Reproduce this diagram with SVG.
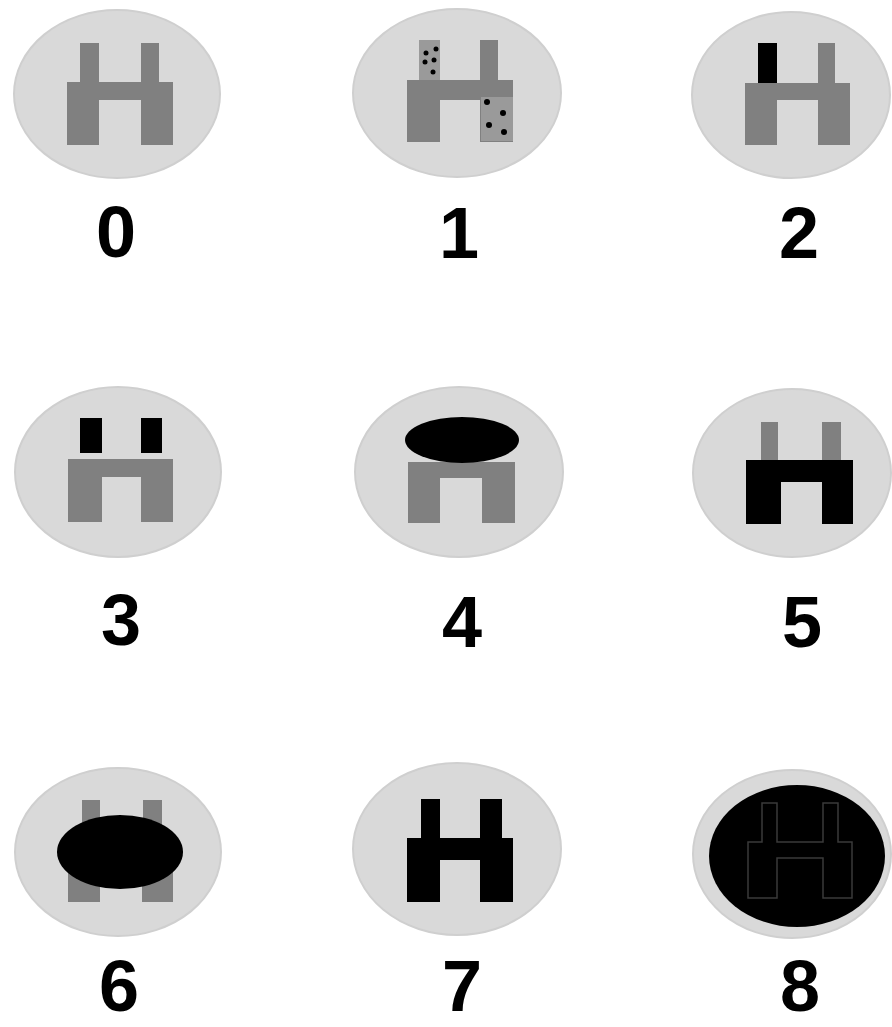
<svg xmlns="http://www.w3.org/2000/svg" width="892" height="1027" viewBox="0 0 892 1027">
<style>
.bg{fill:#d9d9d9;stroke:#cfcfcf;stroke-width:2}
.g{fill:#808080}
.k{fill:#000}
.dt{fill:#9a9a9a}
.lbl{font-family:"Liberation Sans",Arial,sans-serif;font-weight:bold;font-size:72px;fill:#000;text-anchor:middle}
</style>
<rect width="892" height="1027" fill="#fff"/>
<g id="node0">
<ellipse class="bg" cx="117" cy="94" rx="103" ry="84"/>
<path class="g" d="M80 43H99V82H141V43H159V82H173V145H141V100H99V145H67V82H80Z"/>
<text class="lbl" x="116" y="257">0</text>
</g>
<g id="node1">
<ellipse class="bg" cx="457" cy="93" rx="104" ry="84"/>
<path class="g" d="M407 80H480V40H498V80H513V142H480V100H440V142H407Z"/>
<rect class="dt" x="419" y="40" width="21" height="40"/>
<rect class="dt" x="481" y="97" width="32" height="44"/>
<g class="k">
<circle cx="426" cy="53" r="2.5"/><circle cx="436" cy="49" r="2.5"/><circle cx="425" cy="62" r="2.5"/><circle cx="434" cy="60" r="2.5"/><circle cx="433" cy="72" r="2.5"/>
<circle cx="487" cy="102" r="3"/><circle cx="503" cy="113" r="3"/><circle cx="489" cy="125" r="3"/><circle cx="504" cy="132" r="3"/>
</g>
<text class="lbl" x="459" y="258">1</text>
</g>
<g id="node2">
<ellipse class="bg" cx="791" cy="95" rx="99" ry="83"/>
<path class="g" d="M745 83H818V43H835V83H850V145H818V100H777V145H745Z"/>
<rect class="k" x="758" y="43" width="19" height="40"/>
<text class="lbl" x="799" y="258">2</text>
</g>
<g id="node3">
<ellipse class="bg" cx="118" cy="472" rx="103" ry="85"/>
<path class="g" d="M68 459H173V522H141V477H102V522H68Z"/>
<rect class="k" x="80" y="418" width="22" height="35"/>
<rect class="k" x="141" y="418" width="21" height="35"/>
<text class="lbl" x="121" y="645">3</text>
</g>
<g id="node4">
<ellipse class="bg" cx="459" cy="472" rx="104" ry="85"/>
<path class="g" d="M408 462H515V523H482V478H440V523H408Z"/>
<ellipse class="k" cx="462" cy="440" rx="57" ry="23"/>
<text class="lbl" x="462" y="647">4</text>
</g>
<g id="node5">
<ellipse class="bg" cx="792" cy="473" rx="99" ry="84"/>
<rect class="g" x="761" y="422" width="17" height="38"/>
<rect class="g" x="822" y="422" width="19" height="38"/>
<path class="k" d="M746 460H853V524H822V482H781V524H746Z"/>
<text class="lbl" x="802" y="647">5</text>
</g>
<g id="node6">
<ellipse class="bg" cx="118" cy="852" rx="103" ry="84"/>
<path class="g" d="M82 800H100V902H68V860H82Z"/>
<path class="g" d="M143 800H162V860H173V902H142V860H143Z"/>
<ellipse class="k" cx="120" cy="852" rx="63" ry="37"/>
<text class="lbl" x="119" y="1011">6</text>
</g>
<g id="node7">
<ellipse class="bg" cx="457" cy="849" rx="104" ry="86"/>
<path class="k" d="M421 799H440V838H480V799H502V838H513V902H480V860H440V902H407V838H421Z"/>
<text class="lbl" x="462" y="1011">7</text>
</g>
<g id="node8">
<ellipse class="bg" cx="792" cy="854" rx="99" ry="84"/>
<ellipse class="k" cx="797" cy="856" rx="88" ry="71"/>
<path d="M762 803H777V842H823V803H838V842H852V898H823V858H777V898H748V842H762Z" fill="none" stroke="#3a3a3a" stroke-width="1.5"/>
<text class="lbl" x="800" y="1011">8</text>
</g>
</svg>
